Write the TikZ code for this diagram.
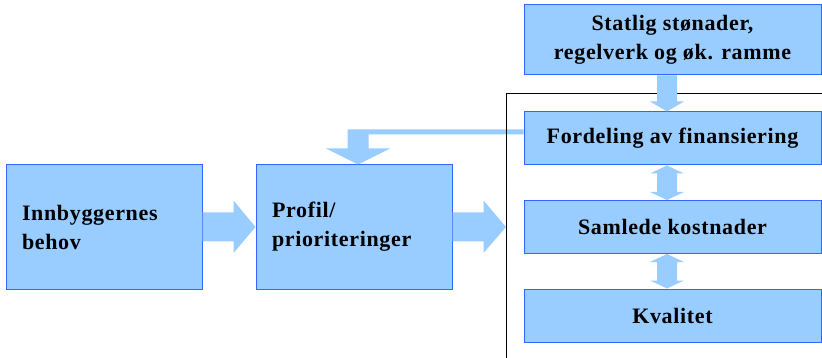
\documentclass[tikz,border=0pt]{standalone}
\usepackage{fontspec}
\setmainfont{Liberation Serif}[LetterSpace=3]
\usetikzlibrary{calc}
\definecolor{boxfill}{HTML}{99CCFF}
\definecolor{boxline}{HTML}{3366FF}
\tikzset{
  box/.style={draw=boxline, line width=1pt, fill=boxfill, inner sep=0pt,
    font=\fontsize{22}{29}\selectfont\bfseries},
  leftbox/.style={box, minimum width=196pt, minimum height=124pt,
    text width=164pt, align=left},
  rightbox/.style={box, minimum width=297pt, align=center},
  blockarrow/.style={fill=boxfill, draw=none},
  frameline/.style={draw=black, line width=1pt}
}
\begin{document}
\begin{tikzpicture}[x=1pt, y=-1pt]
\useasboundingbox (0,0) rectangle (822,358);
% frame
\coordinate (fbl) at (506,360);
\coordinate (ftl) at (506,94);
\coordinate (ftr) at (824,94);
\draw[frameline] (fbl) -- (ftl) -- (ftr);
% nodes
\node[leftbox] (need) at (104,227) {Innbyggernes\\behov};
\node[leftbox] (prof) at (354,227) {Profil/\\prioriteringer};
\node[rightbox, minimum height=70pt] (stat) at (672.5,40) {Statlig stønader,\\regelverk og øk. ramme};
\node[rightbox, minimum height=53pt] (ford) at (672.5,138.5) {Fordeling av finansiering};
\node[rightbox, minimum height=53pt] (saml) at (672.5,227) {Samlede kostnader};
\node[rightbox, minimum height=53pt] (kval) at (672.5,315.5) {Kvalitet};
% right arrows
\fill[blockarrow] ($(need.east)+(0,-14.5)$) -- ++(31,0) -- ++(0,-12) -- (prof.west)
  -- ($(need.east)+(31,26)$) -- ++(0,-11.5) -- ($(need.east)+(0,14.5)$) -- cycle;
\fill[blockarrow] ($(prof.east)+(0,-14.5)$) -- ++(31,0) -- ++(0,-12) -- (prof.east -| ftl)
  -- ($(prof.east)+(31,26)$) -- ++(0,-11.5) -- ($(prof.east)+(0,14.5)$) -- cycle;
% down arrow stat -> ford
\coordinate (sa) at ($(stat.south)+(-5.5,0)$);
\coordinate (fa) at ($(ford.north)+(-5.5,0)$);
\fill[blockarrow] ($(sa)+(-10,0)$) -- ($(sa)+(10,0)$) -- ($(fa)+(10,-10)$) -- ($(fa)+(17,-10)$)
  -- (fa) -- ($(fa)+(-17,-10)$) -- ($(fa)+(-10,-10)$) -- cycle;
% double arrows
\coordinate (f1) at ($(ford.south)+(-5.5,0)$);
\coordinate (s1) at ($(saml.north)+(-5.5,0)$);
\fill[blockarrow] (f1) -- ($(f1)+(17,8)$) -- ($(f1)+(10,8)$) -- ($(s1)+(10,-8)$) -- ($(s1)+(17,-8)$)
  -- (s1) -- ($(s1)+(-17,-8)$) -- ($(s1)+(-10,-8)$) -- ($(f1)+(-10,8)$) -- ($(f1)+(-17,8)$) -- cycle;
\coordinate (s2) at ($(saml.south)+(-5.5,0)$);
\coordinate (k2) at ($(kval.north)+(-5.5,0)$);
\fill[blockarrow] (s2) -- ($(s2)+(17,8)$) -- ($(s2)+(10,8)$) -- ($(k2)+(10,-8)$) -- ($(k2)+(17,-8)$)
  -- (k2) -- ($(k2)+(-17,-8)$) -- ($(k2)+(-10,-8)$) -- ($(s2)+(-10,8)$) -- ($(s2)+(-17,8)$) -- cycle;
% feedback arrow ford -> prof
\coordinate (fb) at ($(prof.north)+(4,0)$);
\fill[blockarrow] ($(ford.west)+(0,-9)$) -- ($(fb)+(-10.5,-35)$) -- ($(fb)+(-10.5,-16)$)
  -- ($(fb)+(-32,-16)$) -- (fb) -- ($(fb)+(32,-16)$) -- ($(fb)+(10.5,-16)$)
  -- ($(fb)+(10.5,-30)$) -- ($(ford.west)+(0,-4)$) -- cycle;
\draw[frameline] ($(ftl)+(0,30)$) -- ($(ftl)+(0,45)$);
\end{tikzpicture}
\end{document}
